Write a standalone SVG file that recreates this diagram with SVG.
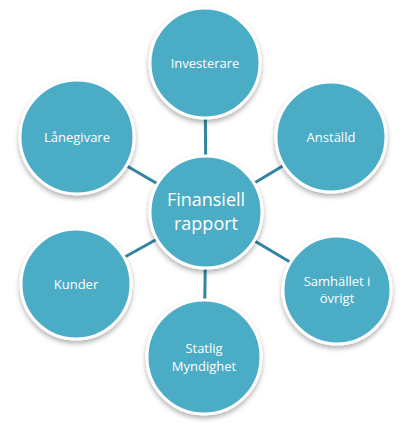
<svg xmlns="http://www.w3.org/2000/svg" width="410" height="437" viewBox="0 0 410 437">
<defs>
<filter id="sh" x="-20%" y="-20%" width="140%" height="150%">
<feDropShadow dx="0" dy="3" stdDeviation="2.5" flood-color="#000" flood-opacity="0.3"/>
</filter>
<style>
.n{fill:#4BACC6;stroke:#fff;stroke-width:3;filter:url(#sh)}
.t{fill:#fff;font-family:"Open Sans","Liberation Sans",sans-serif;font-size:13px;text-anchor:middle}
.c{font-size:18px}
.l{stroke:#31859C;stroke-width:3}
</style>
</defs>
<rect width="410" height="437" fill="#fff"/>
<g id="connectors">
<line class="l" x1="206" y1="212" x2="205" y2="63"/>
<line class="l" x1="206" y1="212" x2="331" y2="137"/>
<line class="l" x1="206" y1="212" x2="337" y2="290"/>
<line class="l" x1="206" y1="212" x2="204" y2="357"/>
<line class="l" x1="206" y1="212" x2="76" y2="284"/>
<line class="l" x1="206" y1="212" x2="77" y2="137"/>
</g>
<g id="investerare"><circle class="n" cx="205" cy="63" r="55"/><text class="t" x="205" y="68">Investerare</text></g>
<g id="anstalld"><circle class="n" cx="331" cy="137" r="55"/><text class="t" x="331" y="142">Anställd</text></g>
<g id="samhallet"><circle class="n" cx="337" cy="290" r="54"/><text class="t" x="337" y="286">Samhället i</text><text class="t" x="337" y="303">övrigt</text></g>
<g id="statlig"><circle class="n" cx="204" cy="357" r="57"/><text class="t" x="204" y="353">Statlig</text><text class="t" x="204" y="371">Myndighet</text></g>
<g id="kunder"><circle class="n" cx="76" cy="284" r="55"/><text class="t" x="76" y="289">Kunder</text></g>
<g id="lanegivare"><circle class="n" cx="77" cy="137" r="57"/><text class="t" x="77" y="142">Lånegivare</text></g>
<g id="center"><circle class="n" cx="206" cy="212" r="56"/><text class="t c" x="206" y="206">Finansiell</text><text class="t c" x="206" y="230">rapport</text></g>
</svg>
